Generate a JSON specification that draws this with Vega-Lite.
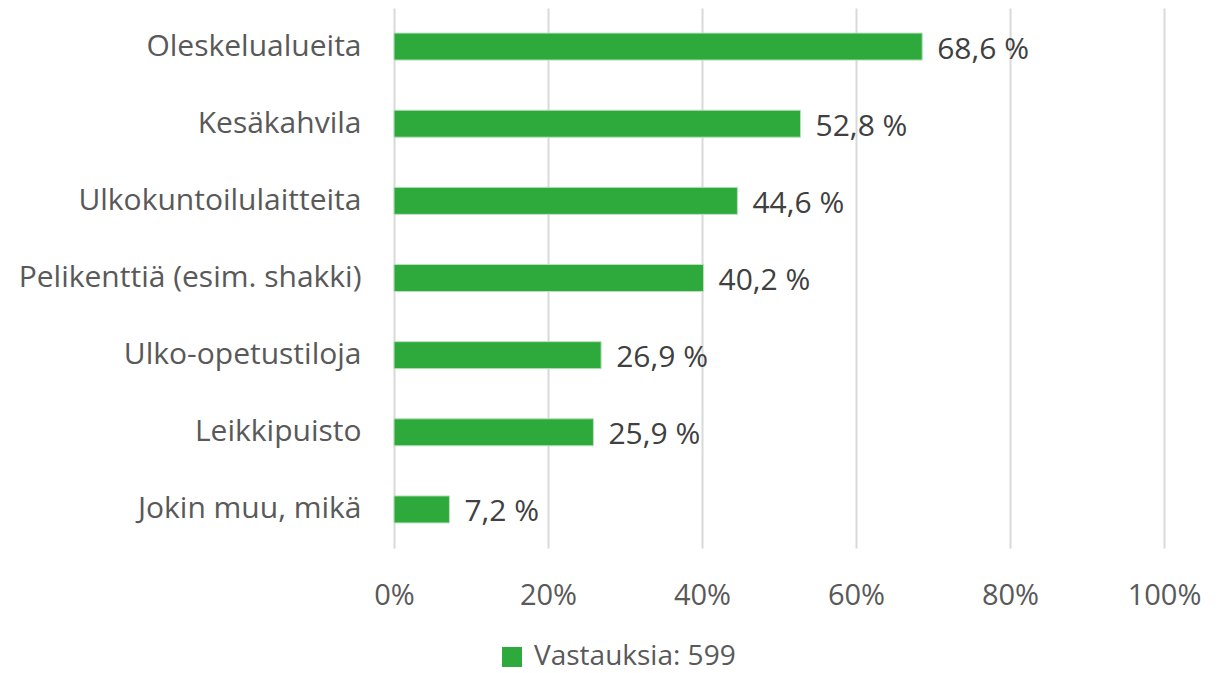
{
  "$schema": "https://vega.github.io/schema/vega-lite/v6.json",
  "width": 770,
  "height": 540,
  "autosize": {"type": "none"},
  "padding": {"left": 394, "top": 8, "right": 57, "bottom": 125},
  "background": "white",
  "config": {"view": {"stroke": null}, "font": "Open Sans"},
  "data": {"values": [
    {"cat": "Oleskelualueita", "v": 0.686, "label": "68,6 %", "s": "Vastauksia: 599"},
    {"cat": "Kesäkahvila", "v": 0.528, "label": "52,8 %", "s": "Vastauksia: 599"},
    {"cat": "Ulkokuntoilulaitteita", "v": 0.446, "label": "44,6 %", "s": "Vastauksia: 599"},
    {"cat": "Pelikenttiä (esim. shakki)", "v": 0.402, "label": "40,2 %", "s": "Vastauksia: 599"},
    {"cat": "Ulko-opetustiloja", "v": 0.269, "label": "26,9 %", "s": "Vastauksia: 599"},
    {"cat": "Leikkipuisto", "v": 0.259, "label": "25,9 %", "s": "Vastauksia: 599"},
    {"cat": "Jokin muu, mikä", "v": 0.072, "label": "7,2 %", "s": "Vastauksia: 599"}
  ]},
  "encoding": {
    "y": {"field": "cat", "type": "nominal", "sort": null,
      "scale": {"paddingInner": 0.65, "paddingOuter": 0.325},
      "axis": {"title": null, "domain": false, "ticks": false, "labelFontSize": 30, "labelColor": "#595959", "labelPadding": 33, "labelFont": "Open Sans", "labelLimit": 400}},
    "x": {"field": "v", "type": "quantitative",
      "scale": {"domain": [0, 1], "nice": false},
      "axis": {"title": null, "format": ".0%", "values": [0, 0.2, 0.4, 0.6, 0.8, 1], "domain": false, "ticks": false, "grid": true, "gridColor": "#d9d9d9", "gridWidth": 2, "labelFontSize": 29, "labelColor": "#595959", "labelPadding": 33, "labelFont": "Open Sans", "labelFlush": false}}
  },
  "layer": [
    {"mark": {"type": "bar", "stroke": "#b8e0bc", "strokeWidth": 1},
     "encoding": {"color": {"field": "s", "type": "nominal", "scale": {"range": ["#2eaa3c"]},
       "legend": {"title": null, "orient": "none", "legendX": 104, "legendY": 635, "symbolType": "square", "symbolSize": 400, "symbolStrokeWidth": 0, "labelFontSize": 28, "labelColor": "#595959", "labelFont": "Open Sans", "labelLimit": 400, "symbolOffset": 0, "labelOffset": 8}}}},
    {"mark": {"type": "text", "align": "left", "baseline": "middle", "dx": 15, "dy": 3, "fontSize": 30, "color": "#404040", "font": "Open Sans"},
     "encoding": {"text": {"field": "label"}}}
  ]
}
